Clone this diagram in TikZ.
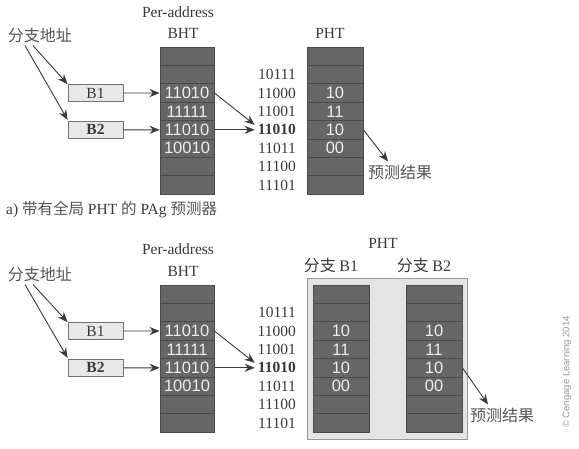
\documentclass[tikz,border=0pt]{standalone}
\usepackage{fontspec}
\setmainfont{Liberation Serif}
\newfontfamily\cjk{Noto Sans CJK SC}
\newfontfamily\sfnum{Liberation Sans}
\usetikzlibrary{arrows.meta,calc}
\definecolor{cellfill}{HTML}{666666}
\definecolor{cellline}{HTML}{4A4A4A}
\definecolor{celltext}{HTML}{EDEDED}
\definecolor{ink}{HTML}{3A3A3A}
\definecolor{cjkink}{HTML}{555555}
\definecolor{boxfill}{HTML}{E8E8E8}
\definecolor{panelfill}{HTML}{E4E4E4}
\tikzset{
  cell/.style={draw=cellline, fill=cellfill, minimum width=54pt, minimum height=18.4pt,
    inner sep=0pt, text=celltext, font=\sfnum\fontsize{16.5}{17}\selectfont, line width=0.8pt},
  pcell/.style={cell, minimum width=56pt},
  lab/.style={anchor=east, text=ink, font=\fontsize{15.5}{16}\selectfont, inner sep=3pt},
  ttl/.style={text=ink, font=\fontsize{15.5}{16}\selectfont, inner sep=2pt},
  cjktxt/.style={text=cjkink, font=\cjk\fontsize{16}{17}\selectfont, inner sep=3pt},
  bbox/.style={draw=black!55, fill=boxfill, minimum width=55pt, minimum height=17pt,
    inner sep=0pt, text=ink, font=\fontsize{15.5}{16}\selectfont, line width=0.8pt},
  arr/.style={-{Stealth[length=10pt,width=8pt]}, draw=ink, line width=0.9pt},
  panel/.style={draw=black!40, fill=panelfill, minimum width=160pt, minimum height=161pt,
    inner sep=0pt, line width=0.8pt}
}
\begin{document}
\begin{tikzpicture}[x=1pt,y=-1pt]
\fill[white] (0,0) rectangle (579,448);
\useasboundingbox (0,0) rectangle (579,448);

% ===================== top (a) =====================
\node[ttl] (pa) at (178,12) {Per-address};
\node[ttl] (bhta) at (183,33) {BHT};
\node[ttl] (phta) at (330,33) {PHT};
\node[cjktxt] (addra) at (40,35) {分支地址};

\foreach \t [count=\i] in {{},{},11010,11111,11010,10010,{},{}}
  \node[cell] (ta\i) at (187,{56.2+18.4*(\i-1)}) {\t};
\foreach \t [count=\i] in {{},{},10,11,10,00,{},{}}
  \node[pcell] (pha\i) at (335,{56.2+18.4*(\i-1)}) {\t};
\foreach \t [count=\i from 2] in {10111,11000,11001,{\textbf{11010}},11011,11100,11101}
  \node[lab] (la\i) at (299,{56.2+18.4*(\i-1)}) {\t};

\node[bbox] (B1a) at (95.5,93) {B1};
\node[bbox] (B2a) at (95.5,129.8) {\textbf{B2}};

\draw[arr] ([xshift=-7pt]addra.south) -- (B1a.north west);
\draw[arr] ([xshift=-15pt]addra.south) -- ([yshift=1pt]B2a.north west);
\draw[arr] (B1a.east) -- (ta3.west);
\draw[arr] (B2a.east) -- (ta5.west);
\draw[arr] (ta3.east) -- ([yshift=5pt]la5.west);
\draw[arr] (ta5.east) -- (la5.west);

\node[cjktxt] (resa) at (400,172) {预测结果};
\draw[arr] (pha5.east) -- ([xshift=-12pt]resa.north);

\node[anchor=west, text=ink, font=\fontsize{15.5}{16}\selectfont, inner sep=0pt] (capa) at (6,210)
  {a) {\cjk\color{cjkink}带有全局} PHT {\cjk\color{cjkink}的} PAg {\cjk\color{cjkink}预测器}};

% ===================== bottom (b) =====================
\node[ttl] (pb) at (178,249) {Per-address};
\node[ttl] (bhtb) at (183,271) {BHT};
\node[cjktxt] (addrb) at (40,274) {分支地址};

\node[panel] (panel) at (387,358.5) {};
\node[ttl] (phtb) at (383,243) {PHT};
\node[cjktxt, text=ink] (hb1) at (331,265) {分支 {\rmfamily B1}};
\node[cjktxt, text=ink] (hb2) at (424,265) {分支 {\rmfamily B2}};

\foreach \t [count=\i] in {{},{},11010,11111,11010,10010,{},{}}
  \node[cell] (tb\i) at (187,{294.2+18.4*(\i-1)}) {\t};
\foreach \t [count=\i] in {{},{},10,11,10,00,{},{}}
  \node[pcell] (pc\i) at (341,{294.2+18.4*(\i-1)}) {\t};
\foreach \t [count=\i] in {{},{},10,11,10,00,{},{}}
  \node[pcell] (pd\i) at (434,{294.2+18.4*(\i-1)}) {\t};
\foreach \t [count=\i from 2] in {10111,11000,11001,{\textbf{11010}},11011,11100,11101}
  \node[lab] (lb\i) at (299,{294.2+18.4*(\i-1)}) {\t};

\node[bbox] (B1b) at (95.5,331) {B1};
\node[bbox] (B2b) at (95.5,367.8) {\textbf{B2}};

\draw[arr] ([xshift=-7pt]addrb.south) -- (B1b.north west);
\draw[arr] ([xshift=-15pt]addrb.south) -- ([yshift=1pt]B2b.north west);
\draw[arr] (B1b.east) -- (tb3.west);
\draw[arr] (B2b.east) -- (tb5.west);
\draw[arr] (tb3.east) -- ([yshift=5pt]lb5.west);
\draw[arr] (tb5.east) -- (lb5.west);

\node[cjktxt] (resb) at (502,415) {预测结果};
\draw[arr] (pd5.east) -- ([xshift=-14pt]resb.north);

\node[rotate=90, text=black!40, font=\sfnum\fontsize{9.5}{10}\selectfont] (copy) at (567,372)
  {\textcopyright{} Cengage Learning 2014};
\end{tikzpicture}
\end{document}
